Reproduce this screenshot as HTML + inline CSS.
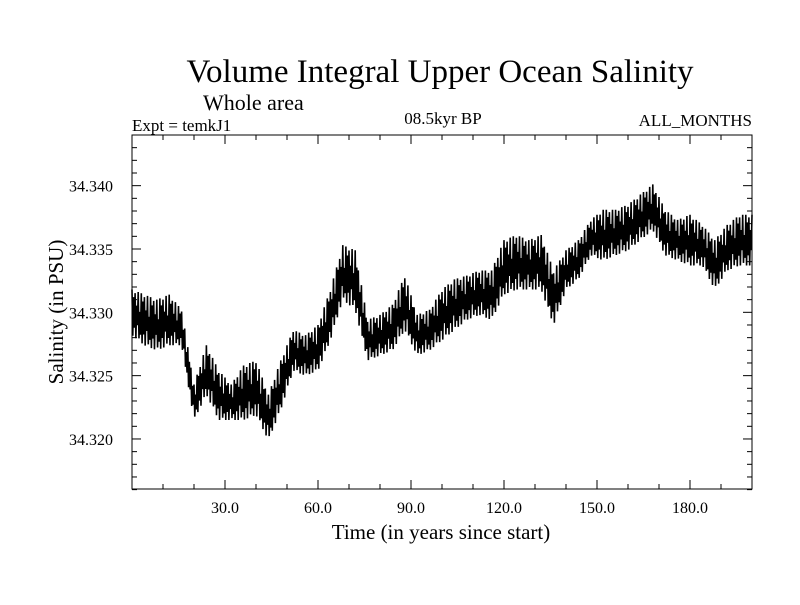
<!DOCTYPE html>
<html><head><meta charset="utf-8"><style>
body{margin:0;background:#fff;}
svg text{font-family:"Liberation Serif",serif;fill:#000;}
</style></head><body>
<svg id="chart" width="800" height="600" xmlns="http://www.w3.org/2000/svg">
<rect width="800" height="600" fill="#fff"/>
<text x="440" y="82" font-size="33" text-anchor="middle">Volume Integral Upper Ocean Salinity</text>
<text x="203" y="110" font-size="22">Whole area</text>
<text x="132" y="131" font-size="17">Expt = temkJ1</text>
<text x="443" y="124" font-size="17" text-anchor="middle">08.5kyr BP</text>
<text x="752" y="126" font-size="17" text-anchor="end">ALL_MONTHS</text>
<text x="441" y="539" font-size="21" text-anchor="middle">Time (in years since start)</text>
<text transform="translate(63,312) rotate(-90)" font-size="21" text-anchor="middle">Salinity (in PSU)</text>
<g id="axes"></g>
<path id="series" fill="none" stroke="#000" stroke-width="1.6"/>
<rect x="132" y="135" width="620" height="354" fill="none" stroke="#000" stroke-width="1"/>
</svg>
<script>
const years=[0,4,8,12,16,20,24,28,32,36,40,44,48,52,56,60,64,68,72,76,80,84,88,92,96,100,104,108,112,116,120,124,128,132,136,140,144,148,152,156,160,164,168,172,176,180,184,188,192,196,200];
const highVals=[34.3318,34.3314,34.3310,34.3314,34.3302,34.3243,34.3274,34.3254,34.3243,34.3258,34.3262,34.3235,34.3262,34.3286,34.3282,34.3290,34.3318,34.3353,34.3349,34.3294,34.3298,34.3306,34.3329,34.3298,34.3302,34.3318,34.3326,34.3329,34.3333,34.3333,34.3357,34.3361,34.3357,34.3361,34.3333,34.3349,34.3357,34.3373,34.3381,34.3381,34.3385,34.3393,34.3401,34.3381,34.3373,34.3377,34.3369,34.3357,34.3369,34.3377,34.3377];
const lowVals=[34.3282,34.3274,34.3270,34.3274,34.3274,34.3215,34.3235,34.3215,34.3215,34.3215,34.3219,34.3199,34.3223,34.3254,34.3250,34.3254,34.3278,34.3310,34.3302,34.3262,34.3266,34.3270,34.3286,34.3266,34.3270,34.3278,34.3286,34.3294,34.3298,34.3294,34.3314,34.3318,34.3318,34.3318,34.3290,34.3318,34.3326,34.3345,34.3341,34.3345,34.3349,34.3357,34.3365,34.3345,34.3341,34.3337,34.3337,34.3318,34.3333,34.3337,34.3337];
const xTicks=[30,60,90,120,150,180];
const xTickLabels=["30.0","60.0","90.0","120.0","150.0","180.0"];
const yTicks=[34.320,34.325,34.330,34.335,34.340];
const yTickLabels=["34.320","34.325","34.330","34.335","34.340"];

const L=132,R=752,T=135,B=489,X0=0,X1=200,Y0=34.31605,Y1=34.3440;
function sx(t){return L+(t-X0)/(X1-X0)*(R-L);}
function sy(v){return B-(v-Y0)/(Y1-Y0)*(B-T);}
const NS="http://www.w3.org/2000/svg";
const ax=document.getElementById('axes');
function line(x1,y1,x2,y2,name){const l=document.createElementNS(NS,'line');
l.setAttribute('x1',x1);l.setAttribute('y1',y1);l.setAttribute('x2',x2);l.setAttribute('y2',y2);
l.setAttribute('stroke','#000');l.setAttribute('stroke-width','1');


ax.appendChild(l);}
function txt(x,y,s,anchor,name){const e=document.createElementNS(NS,'text');
e.setAttribute('x',x);e.setAttribute('y',y);e.setAttribute('font-size','16');e.setAttribute('text-anchor',anchor);e.textContent=s;


ax.appendChild(e);}
for(let t=10;t<200;t+=10){const x=sx(t);const major=t%30===0;const len=major?9:5;
line(x,B,x,B-len,'x-tick');line(x,T,x,T+len,'x-tick-top');}
xTicks.forEach((t,i)=>txt(sx(t),513,xTickLabels[i],'middle','x-tick-label'));
for(let k=0;k<=28;k++){const v=34.316+k*0.001;if(v>Y1)break;const y=sy(v);const major=(k%5)===4;const len=major?9:5;
line(L,y,L+len,y,'y-tick');line(R,y,R-len,y,'y-tick-right');}
yTicks.forEach((v,i)=>txt(113,sy(v)+6,yTickLabels[i],'end','y-tick-label'));
function interp(arr,t){for(let i=0;i<years.length-1;i++){if(t<=years[i+1]){const f=(t-years[i])/(years[i+1]-years[i]);return arr[i]+f*(arr[i+1]-arr[i]);}}return arr[arr.length-1];}
const pat=[1,0.0,0.85,0.2,0.95,0.0,0.7,0.3,1,0.05,0.6,0.15];
let d='';let k=0;
for(let t=0;t<=200;t+=0.25,k++){const h=interp(highVals,t),l=interp(lowVals,t);const f=pat[k%pat.length];
const v=l+(h-l)*f;d+=(k===0?'M':'L')+sx(t).toFixed(2)+' '+sy(v).toFixed(2);}
document.getElementById('series').setAttribute('d',d);
</script>
</body></html>
